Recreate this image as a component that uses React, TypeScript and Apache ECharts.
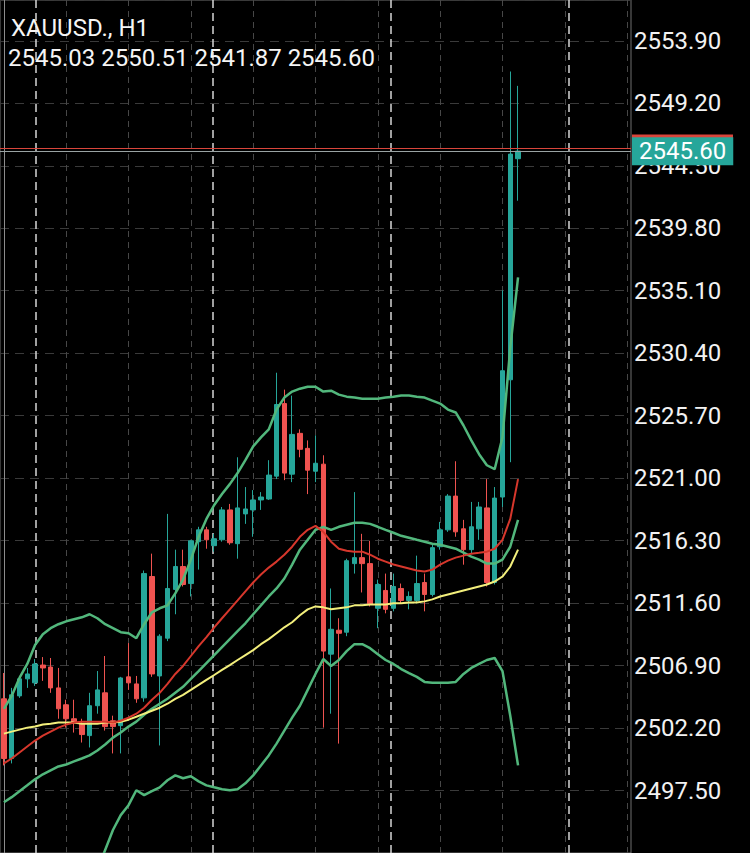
import React, { useEffect, useRef } from 'react';
import * as echarts from 'echarts';

const symbolTitle = 'XAUUSD., H1';

// OHLC of the H1 candles (oldest -> newest)
const opens = [
  2504.40, 2499.91, 2504.62, 2505.90, 2505.60, 2506.94, 2506.79, 2505.22, 2503.95, 2502.90,
  2502.53, 2501.63, 2503.88, 2504.85, 2502.75, 2502.38, 2506.05, 2505.52, 2504.47, 2513.60,
  2506.12, 2508.96, 2512.63, 2514.35, 2513.07, 2516.22, 2517.11, 2515.92, 2516.36, 2518.61,
  2516.07, 2518.31, 2518.61, 2519.36, 2519.43, 2521.15, 2526.61, 2521.30, 2524.37, 2523.24,
  2521.52, 2522.05, 2507.76, 2509.56, 2509.41, 2514.57, 2515.02, 2514.57, 2511.21, 2512.55,
  2511.21, 2512.70, 2511.80, 2511.80, 2513.15, 2512.25, 2515.84, 2517.11, 2519.65, 2517.19,
  2515.62, 2517.19, 2518.76, 2513.15, 2519.58, 2528.40, 2545.03,
];
const closes = [
  2499.91, 2504.70, 2505.90, 2506.27, 2507.02, 2506.72, 2505.22, 2503.65, 2502.90, 2502.61,
  2501.71, 2503.88, 2505.07, 2502.31, 2502.31, 2505.97, 2505.60, 2504.40, 2513.82, 2506.27,
  2509.11, 2512.70, 2514.35, 2513.00, 2516.29, 2517.11, 2516.36, 2516.44, 2518.61, 2516.14,
  2518.76, 2518.68, 2519.36, 2519.58, 2521.23, 2526.54, 2521.38, 2524.29, 2523.17, 2521.60,
  2522.12, 2507.99, 2509.63, 2509.33, 2514.79, 2515.02, 2514.57, 2511.50, 2513.00, 2511.13,
  2512.85, 2511.80, 2512.10, 2513.07, 2512.25, 2515.77, 2517.11, 2519.65, 2516.96, 2515.62,
  2517.34, 2518.83, 2513.15, 2519.50, 2529.08, 2545.38, 2545.60,
];
const lows = [
  2499.39, 2499.54, 2504.47, 2505.22, 2505.37, 2505.75, 2504.85, 2502.90, 2502.23, 2501.86,
  2501.11, 2500.74, 2503.28, 2502.01, 2500.29, 2500.29, 2505.07, 2504.10, 2504.18, 2506.05,
  2500.89, 2508.74, 2510.76, 2512.85, 2512.10, 2514.12, 2515.69, 2515.47, 2516.22, 2515.99,
  2514.94, 2517.56, 2516.59, 2518.61, 2519.36, 2520.93, 2520.85, 2520.70, 2522.57, 2519.80,
  2520.70, 2502.23, 2503.28, 2501.03, 2509.11, 2513.82, 2512.40, 2511.35, 2509.71, 2510.83,
  2510.98, 2511.58, 2511.13, 2511.58, 2510.98, 2512.10, 2515.62, 2516.96, 2516.59, 2514.49,
  2515.32, 2516.36, 2512.85, 2513.00, 2518.83, 2522.20, 2541.87,
];
const highs = [
  2506.34, 2505.22, 2506.12, 2506.72, 2507.39, 2507.54, 2507.47, 2506.72, 2504.33, 2504.33,
  2502.90, 2504.85, 2506.49, 2507.62, 2503.13, 2506.05, 2508.59, 2506.12, 2514.05, 2515.32,
  2509.26, 2518.31, 2515.62, 2515.62, 2516.36, 2517.34, 2517.34, 2516.81, 2518.83, 2519.06,
  2522.57, 2520.33, 2520.10, 2519.95, 2522.35, 2528.93, 2527.66, 2527.21, 2524.67, 2523.84,
  2524.22, 2522.72, 2512.70, 2510.46, 2514.94, 2519.95, 2516.81, 2516.29, 2513.37, 2513.82,
  2513.82, 2513.07, 2512.48, 2515.17, 2513.82, 2515.99, 2517.71, 2519.80, 2522.27, 2517.86,
  2519.21, 2519.21, 2520.93, 2520.33, 2535.13, 2551.59, 2550.51,
];

// Bollinger bands (green)
const bbUpper = [
  2503.65, 2504.62, 2505.97, 2507.02, 2508.44, 2509.26, 2509.71, 2510.01, 2510.23, 2510.38,
  2510.53, 2510.76, 2510.46, 2510.01, 2509.71, 2509.41, 2509.33, 2508.96, 2510.01, 2510.91,
  2511.21, 2511.43, 2512.33, 2513.37, 2514.87, 2516.59, 2517.93, 2518.98, 2519.80, 2520.55,
  2521.38, 2522.35, 2523.39, 2524.07, 2524.67, 2526.16, 2527.06, 2527.51, 2527.73, 2527.88,
  2527.88, 2527.51, 2527.58, 2527.28, 2527.13, 2527.06, 2526.98, 2526.98, 2526.98, 2527.06,
  2527.13, 2527.21, 2527.21, 2527.13, 2527.06, 2526.83, 2526.61, 2526.16, 2525.94, 2524.96,
  2523.84, 2522.80, 2521.97, 2521.67, 2524.07, 2530.80, 2536.11,
];
const bbMiddle = [
  2496.62, 2497.00, 2497.45, 2497.89, 2498.34, 2498.72, 2499.02, 2499.31, 2499.46, 2499.69,
  2499.91, 2500.14, 2500.51, 2500.96, 2501.48, 2501.86, 2502.31, 2502.68, 2503.20, 2503.65,
  2504.03, 2504.40, 2504.85, 2505.30, 2505.90, 2506.49, 2507.09, 2507.69, 2508.29, 2508.89,
  2509.49, 2510.08, 2510.76, 2511.43, 2512.10, 2512.70, 2513.45, 2514.50, 2515.62, 2516.36,
  2517.11, 2517.34, 2517.11, 2517.34, 2517.49, 2517.64, 2517.64, 2517.56, 2517.34, 2517.11,
  2516.89, 2516.66, 2516.51, 2516.36, 2516.22, 2516.07, 2515.99, 2515.84, 2515.69, 2515.39,
  2515.09, 2514.87, 2514.57, 2514.57, 2514.87, 2515.84, 2517.86,
];
const bbLower = [
  null, null, null, null, null, null, null, null, null, null,
  2488.55, 2490.04, 2491.54, 2493.03, 2494.53, 2495.65, 2496.40, 2497.52, 2497.15, 2497.45,
  2497.74, 2498.27, 2498.64, 2498.42, 2498.57, 2498.19, 2497.89, 2497.74, 2497.60, 2497.52,
  2497.60, 2498.04, 2498.64, 2499.39, 2500.14, 2501.03, 2502.01, 2502.98, 2503.88, 2505.07,
  2506.27, 2507.39, 2506.87, 2507.32, 2507.99, 2508.51, 2508.51, 2508.21, 2507.76, 2507.32,
  2507.02, 2506.64, 2506.34, 2506.05, 2505.67, 2505.60, 2505.60, 2505.60, 2505.67, 2506.27,
  2506.72, 2507.02, 2507.32, 2507.47, 2506.49, 2503.13, 2499.39,
];
// Moving averages
const maRed = [
  2499.54, 2499.91, 2500.36, 2500.81, 2501.26, 2501.63, 2501.93, 2502.23, 2502.46, 2502.61,
  2502.68, 2502.68, 2502.68, 2502.68, 2502.61, 2502.75, 2502.98, 2503.28, 2503.73, 2504.33,
  2504.85, 2505.52, 2506.27, 2506.87, 2507.62, 2508.36, 2509.04, 2509.78, 2510.46, 2511.13,
  2511.80, 2512.48, 2513.15, 2513.75, 2514.27, 2514.72, 2515.24, 2515.84, 2516.59, 2517.11,
  2517.41, 2516.96, 2516.22, 2515.69, 2515.54, 2515.47, 2515.47, 2515.24, 2514.94, 2514.72,
  2514.50, 2514.35, 2514.20, 2514.05, 2513.97, 2514.12, 2514.50, 2514.79, 2515.02, 2515.17,
  2515.32, 2515.39, 2515.47, 2515.69, 2516.36, 2517.93, 2520.93,
];
const maYellow = [
  2501.78, 2501.93, 2502.08, 2502.23, 2502.31, 2502.46, 2502.53, 2502.61, 2502.61, 2502.61,
  2502.53, 2502.53, 2502.53, 2502.61, 2502.61, 2502.68, 2502.83, 2503.05, 2503.28, 2503.50,
  2503.73, 2504.03, 2504.40, 2504.70, 2505.07, 2505.45, 2505.82, 2506.19, 2506.57, 2506.94,
  2507.32, 2507.69, 2508.06, 2508.51, 2508.89, 2509.33, 2509.78, 2510.16, 2510.68, 2511.13,
  2511.35, 2511.28, 2511.13, 2511.21, 2511.28, 2511.43, 2511.43, 2511.50, 2511.50, 2511.50,
  2511.58, 2511.58, 2511.65, 2511.65, 2511.73, 2511.88, 2512.10, 2512.25, 2512.40, 2512.55,
  2512.70, 2512.85, 2513.00, 2513.22, 2513.60, 2514.35, 2515.62,
];

const bidPrice = 2545.6;
const askPrice = 2545.8;

const yTickValues = [
  2497.5, 2502.2, 2506.9, 2511.6, 2516.3, 2521.0, 2525.7, 2530.4, 2535.1, 2539.8, 2544.5, 2549.2, 2553.9,
];
const yStep = 4.7;
const yMax = 2556.97;

const slotCount = 81; // candle slots across the plot (incl. empty space on the right)
const categories = Array.from({ length: slotCount }, (_, i) => `#${i}`);
const minorSeparators = [8, 16, 24, 32, 40, 48, 56, 64, 72, 80];
const daySeparators = [4.05, 26.85, 49.65, 72.45];

const BULL = '#26a69a';
const BEAR = '#ef5350';
const BAND = '#52b77c';
const FONT = 'Roboto';

export default function App() {
  const ref = useRef<HTMLDivElement>(null);

  useEffect(() => {
    if (!ref.current) return;
    const chart = echarts.init(ref.current, null, { renderer: 'svg' });
    const last = opens.length - 1;
    const ohlcText = [opens[last], highs[last], lows[last], closes[last]].map((v) => v.toFixed(2)).join(' ');
    const candles = opens.map((o, i) => [o, closes[i], lows[i], highs[i]]);

    const lineSeries = (name: string, data: (number | null)[], color: string, width: number) => ({
      name,
      type: 'line',
      data,
      xAxisIndex: 0,
      yAxisIndex: 0,
      symbol: 'none',
      showSymbol: false,
      smooth: false,
      connectNulls: false,
      z: 4,
      lineStyle: { color, width },
      silent: true,
    });

    chart.setOption({
      animation: false,
      backgroundColor: '#000000',
      grid: {
        left: -3.62,
        right: 119,
        top: 0,
        bottom: -5,
        show: true,
        borderColor: '#6e6e6e',
        borderWidth: 1,
        backgroundColor: 'transparent',
      },
      xAxis: [
        { type: 'category', data: categories, boundaryGap: true, show: false },
        { type: 'value', min: -0.5, max: slotCount - 0.5, show: false },
      ],
      yAxis: {
        type: 'value',
        position: 'right',
        min: yTickValues[0] - yStep,
        max: yMax,
        interval: yStep,
        axisLine: { show: true, lineStyle: { color: '#8c8c8c', width: 1 } },
        axisTick: { show: false },
        axisLabel: {
          show: true,
          color: '#f2f2f2',
          fontFamily: FONT,
          fontSize: 24,
          margin: 3,
          showMaxLabel: false,
          showMinLabel: false,
          formatter: (v: number) => v.toFixed(2),
        },
        splitLine: { show: true, lineStyle: { color: '#3a3a3a', type: [9, 6], width: 1 } },
      },
      graphic: [
        {
          type: 'text',
          x: 11,
          y: 28,
          z: 100,
          style: { text: symbolTitle, fill: '#f5f5f5', fontSize: 24, fontFamily: FONT, verticalAlign: 'middle' },
        },
        {
          type: 'text',
          x: 8,
          y: 57.5,
          z: 100,
          style: { text: ohlcText, fill: '#f5f5f5', fontSize: 24, fontFamily: FONT, verticalAlign: 'middle' },
        },
      ],
      series: [
        {
          name: 'grid',
          type: 'line',
          xAxisIndex: 1,
          yAxisIndex: 0,
          data: [],
          silent: true,
          z: 1,
          markLine: {
            silent: true,
            z: 1,
            symbol: ['none', 'none'],
            label: { show: false },
            data: [
              ...minorSeparators.map((v) => ({
                xAxis: v,
                lineStyle: { color: '#474747', type: [6, 5], width: 1 },
              })),
              ...daySeparators.map((v) => ({
                xAxis: v,
                lineStyle: { color: '#d6d6d6', type: [8, 5], width: 1.5 },
              })),
            ],
          },
        },
        {
          name: symbolTitle,
          type: 'candlestick',
          xAxisIndex: 0,
          yAxisIndex: 0,
          data: candles,
          barWidth: 5,
          z: 3,
          itemStyle: {
            color: BULL,
            color0: BEAR,
            borderColor: BULL,
            borderColor0: BEAR,
            borderWidth: 1,
          },
          markLine: {
            silent: true,
            z: 6,
            symbol: ['none', 'none'],
            data: [
              {
                yAxis: askPrice,
                lineStyle: { color: '#d9453b', width: 1, type: 'solid' },
                label: {
                  show: true,
                  position: 'end',
                  distance: 1,
                  formatter: () => ' ',
                  width: 87,
                  height: 24,
                  lineHeight: 24,
                  fontSize: 24,
                  fontFamily: FONT,
                  backgroundColor: '#d9453b',
                  padding: [2, 7, 2, 7],
                },
              },
              {
                yAxis: bidPrice,
                lineStyle: { color: '#9aa3a3', width: 1, type: 'solid' },
                label: {
                  show: true,
                  position: 'end',
                  distance: 1,
                  formatter: () => bidPrice.toFixed(2),
                  color: '#ffffff',
                  backgroundColor: BULL,
                  padding: [2, 7, 2, 7],
                  fontSize: 24,
                  lineHeight: 24,
                  fontFamily: FONT,
                },
              },
            ],
          },
        },
        lineSeries('BB upper', bbUpper, BAND, 2.5),
        lineSeries('BB lower', bbLower, BAND, 2.5),
        lineSeries('BB middle', bbMiddle, BAND, 2.5),
        lineSeries('MA slow', maYellow, '#f3ef7c', 2),
        lineSeries('MA fast', maRed, '#d7372c', 2),
      ],
    });

    return () => chart.dispose();
  }, []);

  return (
    <div
      ref={ref}
      style={{ position: 'fixed', left: 0, top: 0, width: 750, height: 853, background: '#000' }}
    />
  );
}
